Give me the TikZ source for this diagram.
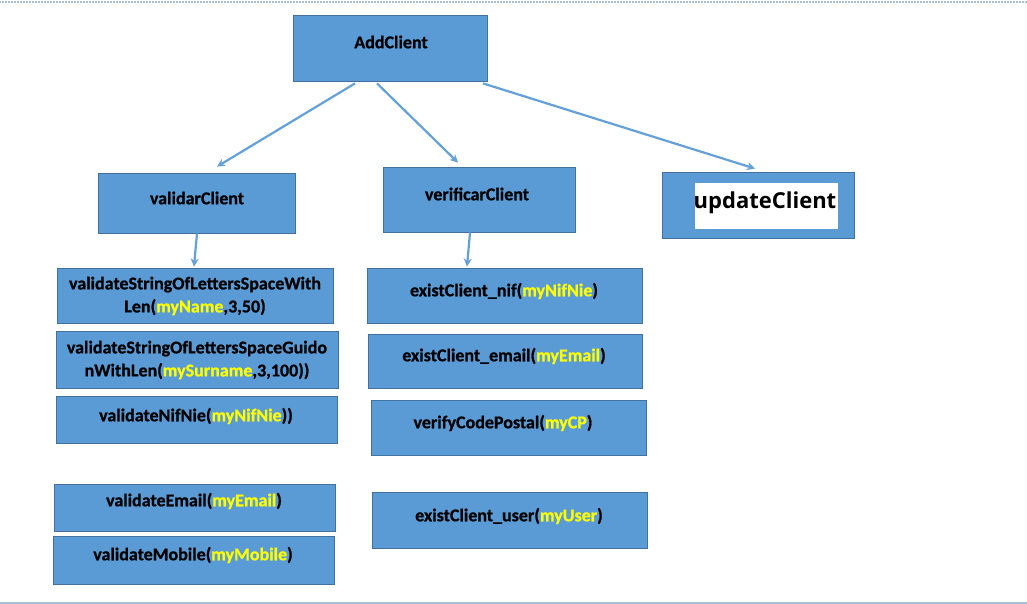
\documentclass[tikz,border=0pt]{standalone}
\usepackage{fontspec}
\setmainfont{Carlito}[BoldFeatures={FakeBold=0.8}]
\newfontfamily\updfont{Open Sans}
\usetikzlibrary{arrows.meta,calc}
\definecolor{boxfill}{HTML}{5B9BD5}
\definecolor{boxline}{HTML}{41719C}
\definecolor{arrowc}{HTML}{64A0DA}
\definecolor{argc}{HTML}{FFFF00}
\definecolor{rulec}{HTML}{A9C0D2}
\newcommand{\myarg}[1]{\textcolor{argc}{#1}}
\begin{document}
\begin{tikzpicture}[x=1pt,y=-1pt,
  bx/.style={draw=boxline,line width=0.8pt,fill=boxfill,inner sep=0pt},
  lbl/.style={font=\fontsize{18}{23}\selectfont\bfseries,align=center,inner sep=0pt},
  conn/.style={draw=arrowc,line width=2.2pt,-{Stealth[length=8pt,width=8pt]}}]
\useasboundingbox (0,0) rectangle (1027,604);
% frame rules
\draw[rulec,line width=2.5pt,dash pattern=on 1pt off 0.5pt] (0,2) -- (1027,2);
\draw[rulec,line width=1.5pt] (0,603) -- (1027,603);
% top
\node[bx,minimum width=194pt,minimum height=66pt] (add) at (390,48) {};
\node[lbl] (addT) at (391,42) {AddClient};
% second level
\node[bx,minimum width=197pt,minimum height=60pt] (val) at (196.5,203) {};
\node[lbl] (valT) at (197,198) {validarClient};
\node[bx,minimum width=192pt,minimum height=65pt] (ver) at (479,199.5) {};
\node[lbl] (verT) at (477,194) {verificarClient};
\node[bx,minimum width=192pt,minimum height=66pt] (upd) at (758,205) {};
\node[fill=white,minimum width=143pt,minimum height=45pt,inner sep=0pt] (updBg) at (766,206) {};
\node[font=\updfont\fontsize{22}{26}\selectfont\bfseries,inner sep=0pt] (updT) at (765,203) {updateClient};
% left column
\node[bx,minimum width=276pt,minimum height=55pt] (v1) at (195,295.5) {};
\node[lbl] (v1T) at (195,296) {validateStringOfLettersSpaceWith\\Len(\myarg{myName},3,50)};
\node[bx,minimum width=282pt,minimum height=57pt] (v2) at (197,359.5) {};
\node[lbl] (v2T) at (197,360) {validateStringOfLettersSpaceGuido\\nWithLen(\myarg{mySurname},3,100))};
\node[bx,minimum width=281pt,minimum height=47pt] (v3) at (196.5,419.5) {};
\node[lbl] (v3T) at (196,416) {validateNifNie(\myarg{myNifNie}))};
\node[bx,minimum width=281pt,minimum height=47pt] (v4) at (194.5,507.5) {};
\node[lbl] (v4T) at (194,501) {validateEmail(\myarg{myEmail})};
\node[bx,minimum width=281pt,minimum height=48pt] (v5) at (193.5,560) {};
\node[lbl] (v5T) at (193,555) {validateMobile(\myarg{myMobile})};
% middle column
\node[bx,minimum width=275pt,minimum height=55pt] (e1) at (504.5,295.5) {};
\node[lbl] (e1T) at (504,291) {existClient\_nif(\myarg{myNifNie})};
\node[bx,minimum width=274pt,minimum height=54pt] (e2) at (505,361) {};
\node[lbl] (e2T) at (504,356) {existClient\_email(\myarg{myEmail})};
\node[bx,minimum width=275pt,minimum height=55pt] (e3) at (508.5,427.5) {};
\node[lbl] (e3T) at (503,423) {verifyCodePostal(\myarg{myCP})};
\node[bx,minimum width=275pt,minimum height=56pt] (e4) at (509.5,520) {};
\node[lbl] (e4T) at (509,516) {existClient\_user(\myarg{myUser})};
% connectors
\draw[conn] ([xshift=-35pt,yshift=-2pt]add.south) -- ([xshift=20.5pt,yshift=6pt]val.north);
\draw[conn] ([xshift=-13pt,yshift=-2pt]add.south) -- ([xshift=-21pt,yshift=4pt]ver.north);
\draw[conn] ([xshift=93pt,yshift=-2pt]add.south) -- ([xshift=-3pt,yshift=3pt]upd.north);
\draw[conn] ([xshift=0.5pt]val.south) -- ([xshift=-1pt,yshift=1pt]v1.north);
\draw[conn] ([xshift=-9pt]ver.south) -- ([xshift=-37.5pt,yshift=1pt]e1.north);
\end{tikzpicture}
\end{document}
